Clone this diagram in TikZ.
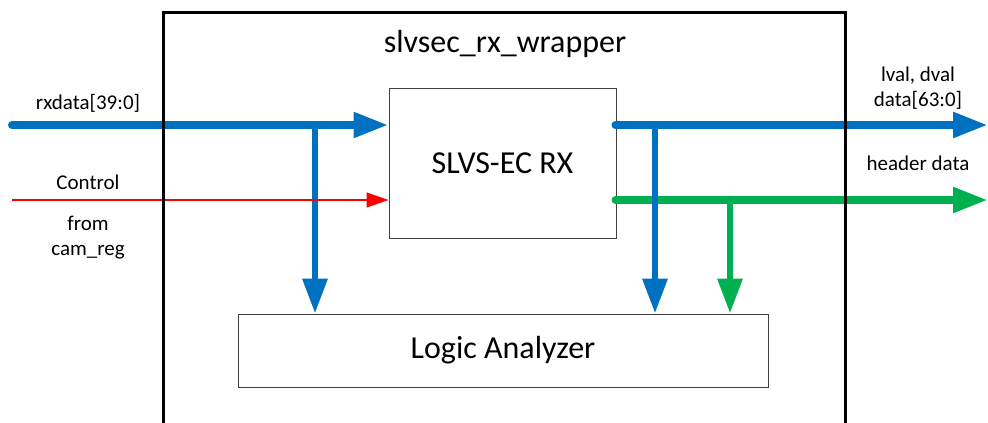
\documentclass[tikz,border=0pt]{standalone}
\usepackage{fontspec}
\setmainfont{Carlito}
\usetikzlibrary{arrows.meta}
\definecolor{xblue}{HTML}{0070C0}
\definecolor{xgreen}{HTML}{00B050}
\definecolor{xred}{HTML}{FF0000}
\tikzset{
  blockbox/.style={draw=black!75, line width=1pt, fill=white, inner sep=0pt,
    font=\fontsize{32}{38}\selectfont},
  bigtext/.style={font=\fontsize{32}{38}\selectfont, inner sep=0pt},
  smalltext/.style={font=\fontsize{21}{25}\selectfont, inner sep=0pt, align=center},
  bigtip/.style={-{Triangle[length=35pt,width=24pt]}},
  hbus/.style={line width=8pt, line cap=round, bigtip},
  vbus/.style={line width=6.5pt, bigtip},
  ctrl/.style={xred, line width=1.3pt, -{Triangle[length=22pt,width=15pt]}},
  wrapline/.style={line width=3pt, black}
}
\begin{document}
\begin{tikzpicture}[x=1pt,y=-1pt]
\useasboundingbox (0,0) rectangle (988,423);
% blocks
\node[blockbox, minimum width=227pt, minimum height=150pt] (rx) at (502.5,163) {SLVS-EC RX};
\node[blockbox, minimum width=530pt, minimum height=73pt] (la) at (503,350.5) {Logic Analyzer};
\node[bigtext] (title) at (505,44) {slvsec\_rx\_wrapper};
% coordinates
\coordinate (rxin) at (12,125);
\coordinate (ctin) at (12,200);
\coordinate (b1) at (315,125);
\coordinate (dout) at (988,125);
\coordinate (hout) at (988,200);
\coordinate (b2) at (655,125);
\coordinate (b3) at (730,200);
% input connectors
\draw[hbus, xblue] (rxin) -- (rx.west |- rxin);
\draw[vbus, xblue] (b1) -- (la.north -| b1);
\draw[ctrl] (ctin) -- (rx.west |- ctin);
% outputs
\draw[hbus, xgreen] ([xshift=-1pt]rx.east |- hout) -- (hout);
\draw[vbus, xgreen] (b3) -- (la.north -| b3);
\draw[hbus, xblue] ([xshift=-1pt]rx.east |- dout) -- (dout);
\draw[vbus, xblue] (b2) -- (la.north -| b2);
% wrapper border
\coordinate (wl) at (163,430);
\coordinate (wr) at (845,430);
\draw[wrapline] (wl) -- (163,12) -- (845,12) -- (wr);
% labels
\node[smalltext] (lrx) at (88,103) {rxdata[39:0]};
\node[smalltext] (lctl) at (88,182) {Control};
\node[smalltext] (lfrom) at (88,237.5) {from\\cam\_reg};
\node[smalltext] (lout) at (918,88) {lval, dval\\data[63:0]};
\node[smalltext] (lhdr) at (918,163) {header data};
\end{tikzpicture}
\end{document}
